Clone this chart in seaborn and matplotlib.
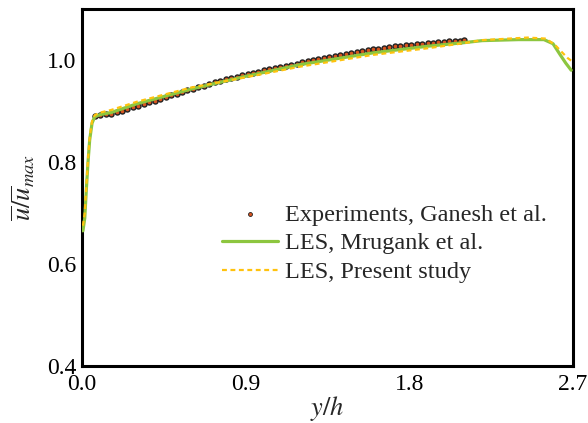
import numpy as np
import pandas as pd
import matplotlib
matplotlib.use("Agg")
import matplotlib.pyplot as plt
from matplotlib.ticker import MultipleLocator
import seaborn as sns

# Experimental profile (Ganesh et al.)
exp_y = [0.07, 0.10, 0.13, 0.16, 0.19, 0.22, 0.25, 0.28, 0.31, 0.34, 0.37, 0.40,
         0.43, 0.46, 0.49, 0.52, 0.55, 0.58, 0.61, 0.64, 0.67, 0.70, 0.73, 0.76,
         0.79, 0.82, 0.85, 0.88, 0.91, 0.94, 0.97, 1.00, 1.03, 1.06, 1.09, 1.12,
         1.15, 1.18, 1.21, 1.24, 1.27, 1.30, 1.33, 1.36, 1.39, 1.42, 1.45, 1.48,
         1.51, 1.54, 1.57, 1.60, 1.63, 1.66, 1.69, 1.72, 1.75, 1.78, 1.81, 1.84,
         1.87, 1.90, 1.93, 1.96, 1.99, 2.02, 2.05, 2.08, 2.10]
exp_u = [0.891, 0.893, 0.894, 0.895, 0.898, 0.900, 0.903, 0.907, 0.910, 0.913, 0.917, 0.920,
         0.924, 0.927, 0.931, 0.934, 0.937, 0.941, 0.944, 0.947, 0.950, 0.953, 0.956, 0.959,
         0.962, 0.964, 0.967, 0.970, 0.972, 0.975, 0.977, 0.980, 0.982, 0.984, 0.986, 0.989,
         0.991, 0.993, 0.996, 0.998, 1.000, 1.002, 1.004, 1.006, 1.008, 1.010, 1.012, 1.014,
         1.016, 1.017, 1.019, 1.021, 1.022, 1.024, 1.025, 1.027, 1.028, 1.029, 1.030, 1.031,
         1.032, 1.033, 1.034, 1.035, 1.036, 1.037, 1.038, 1.038, 1.039]

# LES, Mrugank et al.
mru_y = [0.005, 0.015, 0.024, 0.033, 0.042, 0.055, 0.07, 0.10, 0.16, 0.30, 0.60, 0.90,
         1.20, 1.60, 1.90, 2.10, 2.20, 2.40, 2.54, 2.59, 2.63, 2.66, 2.69]
mru_u = [0.665, 0.690, 0.748, 0.800, 0.843, 0.876, 0.889, 0.893, 0.897, 0.914, 0.943, 0.968,
         0.991, 1.014, 1.027, 1.034, 1.038, 1.040, 1.040, 1.032, 1.010, 0.994, 0.980]

# LES, present study
pre_y = [0.005, 0.015, 0.024, 0.033, 0.042, 0.055, 0.07, 0.10, 0.16, 0.30, 0.60, 0.90,
         1.20, 1.60, 1.90, 2.10, 2.20, 2.45, 2.55, 2.60, 2.64, 2.67, 2.70]
pre_u = [0.675, 0.700, 0.755, 0.806, 0.848, 0.880, 0.892, 0.897, 0.902, 0.918, 0.946, 0.966,
         0.987, 1.010, 1.023, 1.033, 1.039, 1.044, 1.042, 1.030, 1.015, 1.004, 0.996]

sns.set_style("white")
plt.rcParams["font.family"] = ["Liberation Serif", "DejaVu Serif"]
plt.rcParams["mathtext.fontset"] = "stix"

fig = plt.figure(figsize=(5.88, 4.23), dpi=100)
ax = fig.add_axes([0.1395, 0.1348, 0.835, 0.8439])

exp_df = pd.DataFrame({"y": exp_y, "u": exp_u})
mru_df = pd.DataFrame({"y": mru_y, "u": mru_u})
pre_df = pd.DataFrame({"y": pre_y, "u": pre_u})

sns.scatterplot(data=exp_df, x="y", y="u", ax=ax, s=13, color="#d9541e",
                edgecolor="#222222", linewidth=1.0, zorder=2,
                label="Experiments, Ganesh et al.")
sns.lineplot(data=mru_df, x="y", y="u", ax=ax, color="#8dc63f", lw=2.3,
             sort=False, zorder=3, label="LES, Mrugank et al.")
sns.lineplot(data=pre_df, x="y", y="u", ax=ax, color="#ffc20e", lw=1.6,
             sort=False, zorder=4, label="LES, Present study")
ax.lines[-1].set_dashes([2.2, 1.6])

ax.set_xlim(0, 2.7)
ax.set_ylim(0.4, 1.1)
ax.xaxis.set_minor_locator(MultipleLocator(0.18))
ax.yaxis.set_minor_locator(MultipleLocator(0.04))
ax.set_xticks([0.0, 0.9, 1.8, 2.7])
ax.set_xticklabels(["0.0", "0.9", "1.8", "2.7"])
ax.set_yticks([0.4, 0.6, 0.8, 1.0])
ax.set_yticklabels(["0.4", "0.6", "0.8", "1.0"])

ax.tick_params(which="both", direction="in", top=False, right=False,
               labelsize=17, colors="black")
ax.tick_params(axis="x", pad=6)
ax.tick_params(axis="y", pad=4)
ax.tick_params(which="major", length=6, width=2.0)
ax.tick_params(which="minor", length=3, width=1.5)
for sp in ax.spines.values():
    sp.set_linewidth(2.2)
    sp.set_color("black")
    sp.set_visible(True)

ax.set_xlabel(r"$y/h$", fontsize=19, labelpad=-1)
ax.set_ylabel(r"$\overline{u}/\overline{u}_{max}$", fontsize=19, labelpad=7)

leg = ax.legend(loc="upper left", bbox_to_anchor=(0.285, 0.455), frameon=False,
                fontsize=17.5, handlelength=2.3, handletextpad=0.3,
                labelspacing=0.28, borderaxespad=0, borderpad=0)
for h in leg.legend_handles:
    if hasattr(h, "set_sizes"):
        h.set_sizes([8])
        h.set_linewidth(0.6)

fig.savefig("out.png", dpi=100)
